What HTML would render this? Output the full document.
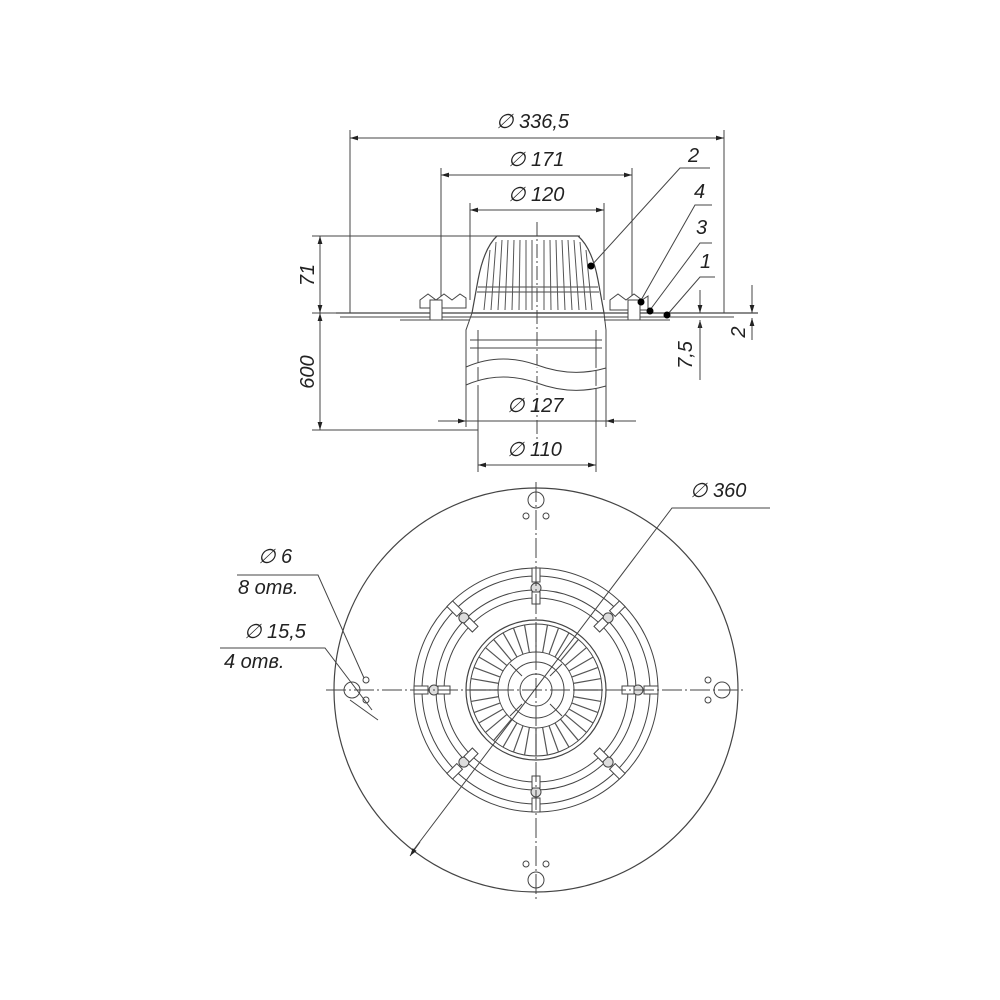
<!DOCTYPE html>
<html><head><meta charset="utf-8"><style>html,body{margin:0;padding:0;background:#fff}svg{display:block}
text{font-family:"Liberation Sans",sans-serif;font-style:italic;fill:#222;font-size:20px}</style></head>
<body>
<svg width="1000" height="1000" viewBox="0 0 1000 1000" xmlns="http://www.w3.org/2000/svg">
<defs>
<marker id="a" viewBox="0 0 10 10" refX="10" refY="5" markerWidth="8" markerHeight="8" orient="auto-start-reverse"><path d="M0,2 L10,5 L0,8 z" fill="#222"/></marker>
<line id="rib" x1="0" y1="-38" x2="0" y2="-66" stroke="#555" stroke-width="1.2"/>
<g id="clamp"><rect x="-4" y="-122" width="8" height="14" fill="#fff" stroke="#444"/><circle cx="0" cy="-102" r="5" fill="#ddd" stroke="#444"/><rect x="-4" y="-98" width="8" height="12" fill="#fff" stroke="#444"/></g>
</defs>
<g fill="none" stroke="#444" stroke-width="1">
<line x1="350" y1="138" x2="724" y2="138" marker-start="url(#a)" marker-end="url(#a)"/>
<line x1="350" y1="130" x2="350" y2="313"/><line x1="724" y1="130" x2="724" y2="313"/>
<line x1="441" y1="175" x2="632" y2="175" marker-start="url(#a)" marker-end="url(#a)"/>
<line x1="441" y1="168" x2="441" y2="313"/><line x1="632" y1="168" x2="632" y2="305"/>
<line x1="470" y1="210" x2="604" y2="210" marker-start="url(#a)" marker-end="url(#a)"/>
<line x1="470" y1="203" x2="470" y2="300"/><line x1="604" y1="203" x2="604" y2="300"/>
<line x1="312" y1="236" x2="580" y2="236"/>
<line x1="312" y1="313" x2="360" y2="313"/>
<line x1="320" y1="236" x2="320" y2="313" marker-start="url(#a)" marker-end="url(#a)"/>
<line x1="320" y1="313" x2="320" y2="430" marker-start="url(#a)" marker-end="url(#a)"/>
<line x1="312" y1="430" x2="478" y2="430"/>
<line x1="438" y1="421" x2="466" y2="421" marker-end="url(#a)"/>
<line x1="636" y1="421" x2="606" y2="421" marker-end="url(#a)"/>
<line x1="466" y1="421" x2="606" y2="421"/>
<line x1="478" y1="430" x2="478" y2="472"/><line x1="596" y1="430" x2="596" y2="472"/>
<line x1="478" y1="465" x2="596" y2="465" marker-start="url(#a)" marker-end="url(#a)"/>
<line x1="700" y1="290" x2="700" y2="313" marker-end="url(#a)"/>
<line x1="700" y1="340" x2="700" y2="320" marker-end="url(#a)"/>
<line x1="700" y1="320" x2="700" y2="380"/>
<line x1="752" y1="285" x2="752" y2="313" marker-end="url(#a)"/>
<line x1="752" y1="340" x2="752" y2="318" marker-end="url(#a)"/>
<polyline points="591,266 680,168 710,168"/>
<polyline points="640,302 695,205 712,205"/>
<polyline points="650,310 700,243 712,243"/>
<polyline points="667,315 700,277 715,277"/>
<line x1="336" y1="313" x2="758" y2="313" stroke-width="1.2"/>
<line x1="340" y1="317" x2="734" y2="317"/>
<line x1="400" y1="320" x2="470" y2="320"/><line x1="604" y1="320" x2="670" y2="320"/>
<path d="M472,313 L478,280 Q484,248 497,236 L578,236 Q592,248 598,280 L604,313 Z" stroke-width="1.2"/>
<line x1="478" y1="287" x2="598" y2="287"/><line x1="477" y1="292" x2="599" y2="292"/>
<g stroke="#555">
<line x1="490" y1="250" x2="484" y2="310"/><line x1="496" y1="242" x2="491" y2="310"/><line x1="502" y1="240" x2="498" y2="310"/><line x1="508" y1="240" x2="505" y2="310"/><line x1="514" y1="240" x2="512" y2="310"/><line x1="520" y1="240" x2="519" y2="310"/><line x1="526" y1="240" x2="526" y2="310"/><line x1="532" y1="240" x2="532" y2="310"/>
<line x1="544" y1="240" x2="544" y2="310"/><line x1="550" y1="240" x2="551" y2="310"/><line x1="556" y1="240" x2="558" y2="310"/><line x1="562" y1="240" x2="565" y2="310"/><line x1="568" y1="240" x2="572" y2="310"/><line x1="574" y1="240" x2="579" y2="310"/><line x1="580" y1="242" x2="586" y2="310"/><line x1="586" y1="250" x2="592" y2="310"/>
</g>
<line x1="537" y1="222" x2="537" y2="445" stroke-dasharray="14,3,2,3"/>
<path d="M420,300 l8,-6 l8,6 l8,-6 l8,6 l8,-6 l6,4 v10 h-46z" fill="#fff"/>
<path d="M610,300 l8,-6 l8,6 l8,-6 l8,6 l6,-4 v14 h-38z" fill="#fff"/>
<rect x="430" y="300" width="12" height="20" fill="#fff"/><rect x="628" y="300" width="12" height="20" fill="#fff"/>
<path d="M472,313 L466,330 L466,427 M604,313 L606,330 L606,427"/>
<path d="M478,330 L478,430 M596,330 L596,430"/>
<line x1="470" y1="340" x2="602" y2="340"/><line x1="470" y1="348" x2="602" y2="348"/>
<path d="M466,367 Q500,352 537,365 Q572,378 606,368" fill="#fff"/>
<path d="M466,385 Q500,370 537,383 Q572,396 606,386" fill="#fff"/>
<circle cx="536" cy="690" r="202" stroke-width="1.2"/>
<circle cx="536" cy="690" r="122"/><circle cx="536" cy="690" r="114"/>
<circle cx="536" cy="690" r="100"/><circle cx="536" cy="690" r="92"/>
<circle cx="536" cy="690" r="70" stroke-width="1.2"/><circle cx="536" cy="690" r="66"/>
<circle cx="536" cy="690" r="38"/><circle cx="536" cy="690" r="28"/><circle cx="536" cy="690" r="16"/>
<g transform="translate(536,690)">
<use href="#rib" transform="rotate(0)"/><use href="#rib" transform="rotate(10)"/><use href="#rib" transform="rotate(20)"/><use href="#rib" transform="rotate(30)"/><use href="#rib" transform="rotate(40)"/><use href="#rib" transform="rotate(50)"/><use href="#rib" transform="rotate(60)"/><use href="#rib" transform="rotate(70)"/><use href="#rib" transform="rotate(80)"/><use href="#rib" transform="rotate(90)"/><use href="#rib" transform="rotate(100)"/><use href="#rib" transform="rotate(110)"/><use href="#rib" transform="rotate(120)"/><use href="#rib" transform="rotate(130)"/><use href="#rib" transform="rotate(140)"/><use href="#rib" transform="rotate(150)"/><use href="#rib" transform="rotate(160)"/><use href="#rib" transform="rotate(170)"/><use href="#rib" transform="rotate(180)"/><use href="#rib" transform="rotate(190)"/><use href="#rib" transform="rotate(200)"/><use href="#rib" transform="rotate(210)"/><use href="#rib" transform="rotate(220)"/><use href="#rib" transform="rotate(230)"/><use href="#rib" transform="rotate(240)"/><use href="#rib" transform="rotate(250)"/><use href="#rib" transform="rotate(260)"/><use href="#rib" transform="rotate(270)"/><use href="#rib" transform="rotate(280)"/><use href="#rib" transform="rotate(290)"/><use href="#rib" transform="rotate(300)"/><use href="#rib" transform="rotate(310)"/><use href="#rib" transform="rotate(320)"/><use href="#rib" transform="rotate(330)"/><use href="#rib" transform="rotate(340)"/><use href="#rib" transform="rotate(350)"/>
<use href="#clamp" transform="rotate(0)"/><use href="#clamp" transform="rotate(45)"/><use href="#clamp" transform="rotate(90)"/><use href="#clamp" transform="rotate(135)"/><use href="#clamp" transform="rotate(180)"/><use href="#clamp" transform="rotate(225)"/><use href="#clamp" transform="rotate(270)"/><use href="#clamp" transform="rotate(315)"/>
<line x1="-14" y1="-14" x2="-26" y2="-26"/><line x1="14" y1="-14" x2="26" y2="-26"/><line x1="-14" y1="14" x2="-26" y2="26"/><line x1="14" y1="14" x2="26" y2="26"/>
</g>
<line x1="536" y1="482" x2="536" y2="900" stroke-dasharray="20,3,2,3"/>
<line x1="326" y1="690" x2="746" y2="690" stroke-dasharray="20,3,2,3"/>
<circle cx="536" cy="500" r="8"/><circle cx="536" cy="880" r="8"/><circle cx="352" cy="690" r="8"/><circle cx="722" cy="690" r="8"/>
<circle cx="526" cy="516" r="3"/><circle cx="546" cy="516" r="3"/><circle cx="526" cy="864" r="3"/><circle cx="546" cy="864" r="3"/>
<circle cx="366" cy="680" r="3"/><circle cx="366" cy="700" r="3"/><circle cx="708" cy="680" r="3"/><circle cx="708" cy="700" r="3"/>
<polyline points="412,852 672,508 770,508" />
<line x1="420" y1="842" x2="410" y2="856" marker-end="url(#a)"/>
<polyline points="237,575 318,575 364,678" />
<polyline points="220,648 325,648 372,710"/>
<line x1="350" y1="700" x2="378" y2="720"/>
</g>
<g fill="#000"><circle cx="591" cy="266" r="3.5"/><circle cx="641" cy="302" r="3.5"/><circle cx="650" cy="311" r="3.5"/><circle cx="667" cy="315" r="3.5"/></g>
<text x="496" y="128">∅ 336,5</text>
<text x="508" y="166">∅ 171</text>
<text x="508" y="201">∅ 120</text>
<text x="507" y="412">∅ 127</text>
<text x="507" y="456">∅ 110</text>
<text x="690" y="497">∅ 360</text>
<text x="688" y="162">2</text><text x="694" y="198">4</text><text x="696" y="234">3</text><text x="700" y="268">1</text>
<text transform="translate(314,275) rotate(-90)" text-anchor="middle">71</text>
<text transform="translate(314,372) rotate(-90)" text-anchor="middle">600</text>
<text transform="translate(692,355) rotate(-90)" text-anchor="middle">7,5</text>
<text transform="translate(745,332) rotate(-90)" text-anchor="middle">2</text>
<text x="258" y="563" font-size="22">∅ 6</text>
<text x="238" y="594" font-size="22">8 отв.</text>
<text x="244" y="638" font-size="22">∅ 15,5</text>
<text x="224" y="668" font-size="22">4 отв.</text>
</svg>
</body></html>
